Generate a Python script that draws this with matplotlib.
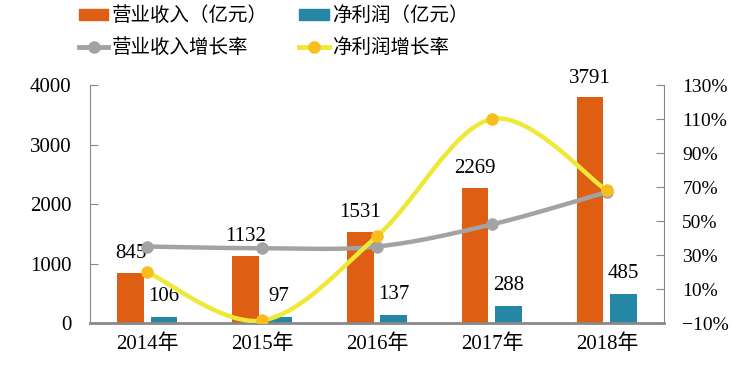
import numpy as np
import matplotlib
matplotlib.use("Agg")
import matplotlib.pyplot as plt
from matplotlib.lines import Line2D
from matplotlib.patches import Patch

plt.rcParams['font.family'] = ['Liberation Serif', 'Noto Sans CJK SC', 'DejaVu Sans']

years = ['2014年', '2015年', '2016年', '2017年', '2018年']
revenue = [845, 1132, 1531, 2269, 3791]
profit = [106, 97, 137, 288, 485]
revenue_growth = [35, 34, 35, 48, 67]
profit_growth = [20, -8.5, 41, 110, 68]

ORANGE = '#DE5F14'
TEAL = '#2586A6'
GRAY = '#A3A3A3'
YELLOW = '#F0E838'
YMARK = '#F8BE1C'


def smooth(xs, ys, n=40):
    """Bezier curve through the points (Excel-style smoothing)"""
    xs = np.asarray(xs, float)
    ys = np.asarray(ys, float)
    px = np.concatenate([[xs[0]], xs, [xs[-1]]])
    py = np.concatenate([[ys[0]], ys, [ys[-1]]])
    out_x, out_y = [], []
    t = np.linspace(0, 1, n)
    for i in range(1, len(px) - 2):
        p0 = np.array([px[i], py[i]])
        p3 = np.array([px[i + 1], py[i + 1]])
        p1 = p0 + (np.array([px[i + 1], py[i + 1]]) - np.array([px[i - 1], py[i - 1]])) / 6
        p2 = p3 - (np.array([px[i + 2], py[i + 2]]) - np.array([px[i], py[i]])) / 6
        b = ((1 - t) ** 3)[:, None] * p0 + (3 * (1 - t) ** 2 * t)[:, None] * p1 \
            + (3 * (1 - t) * t ** 2)[:, None] * p2 + (t ** 3)[:, None] * p3
        out_x.extend(b[:, 0])
        out_y.extend(b[:, 1])
    return out_x, out_y


fig = plt.figure(figsize=(7.54, 3.65), dpi=100)
ax = fig.add_axes([0.119, 0.115, 0.762, 0.652])
x = np.arange(len(years))
w = 0.23
off = 0.145

ax.bar(x - off, revenue, w, color=ORANGE, zorder=2)
ax.bar(x + off, profit, w, color=TEAL, zorder=2)
for i in range(len(years)):
    ax.annotate(str(revenue[i]), (x[i] - off, revenue[i]), xytext=(0, 7),
                textcoords='offset points', ha='center', va='bottom', fontsize=15)
    ax.annotate(str(profit[i]), (x[i] + off, profit[i]), xytext=(0, 8),
                textcoords='offset points', ha='center', va='bottom', fontsize=15)

ax.set_xlim(-0.5, 4.5)
ax.set_ylim(0, 4000)
ax.set_yticks([0, 1000, 2000, 3000, 4000])
ax.set_xticks(x)
ax.set_xticklabels(years, fontsize=15)
ax.tick_params(axis='y', direction='in', length=6, color='#888888', labelsize=15, pad=13)
ax.tick_params(axis='x', length=0, pad=8)
ax.spines['top'].set_visible(False)
ax.spines['right'].set_visible(False)
ax.spines['left'].set_color('#888888')
ax.spines['bottom'].set_color('#888888')
ax.spines['bottom'].set_linewidth(2)

ax2 = ax.twinx()
ax2.set_ylim(-10, 130)
ax2.set_yticks(range(-10, 131, 20))
ax2.set_yticklabels(['%d%%' % v if v >= 0 else '\u2212%d%%' % -v for v in range(-10, 131, 20)])
ax2.tick_params(axis='y', direction='in', length=6, color='#888888', labelsize=14, pad=13)
for s in ['top', 'left', 'bottom']:
    ax2.spines[s].set_visible(False)
ax2.spines['right'].set_color('#888888')

gx, gy = smooth(x, revenue_growth)
ax2.plot(gx, gy, color=GRAY, lw=3.2, zorder=3)
ax2.plot(x, revenue_growth, 'o', color=GRAY, ms=8, zorder=4)
px_, py_ = smooth(x, profit_growth)
ax2.plot(px_, py_, color=YELLOW, lw=3.2, zorder=3)
ax2.plot(x, profit_growth, 'o', color=YMARK, ms=8, zorder=4)

handles = [
    Patch(color=ORANGE),
    Line2D([], [], color=GRAY, lw=3.5, marker='o', ms=8),
    Patch(color=TEAL),
    Line2D([], [], color=YELLOW, lw=3.5, marker='o', ms=8, markerfacecolor=YMARK,
           markeredgecolor=YMARK),
]
labels = ['营业收入（亿元）', '营业收入增长率', '净利润（亿元）', '净利润增长率']
fig.legend(handles, labels, ncol=2, loc='upper left', bbox_to_anchor=(0.105, 0.985),
           frameon=False, handlelength=1.5, handleheight=0.5,
           handletextpad=0.2, columnspacing=1.6, labelspacing=0.55,
           borderpad=0, borderaxespad=0,
           prop={'family': ['Noto Sans CJK SC'], 'size': 14})

fig.savefig('out.png', dpi=100)
